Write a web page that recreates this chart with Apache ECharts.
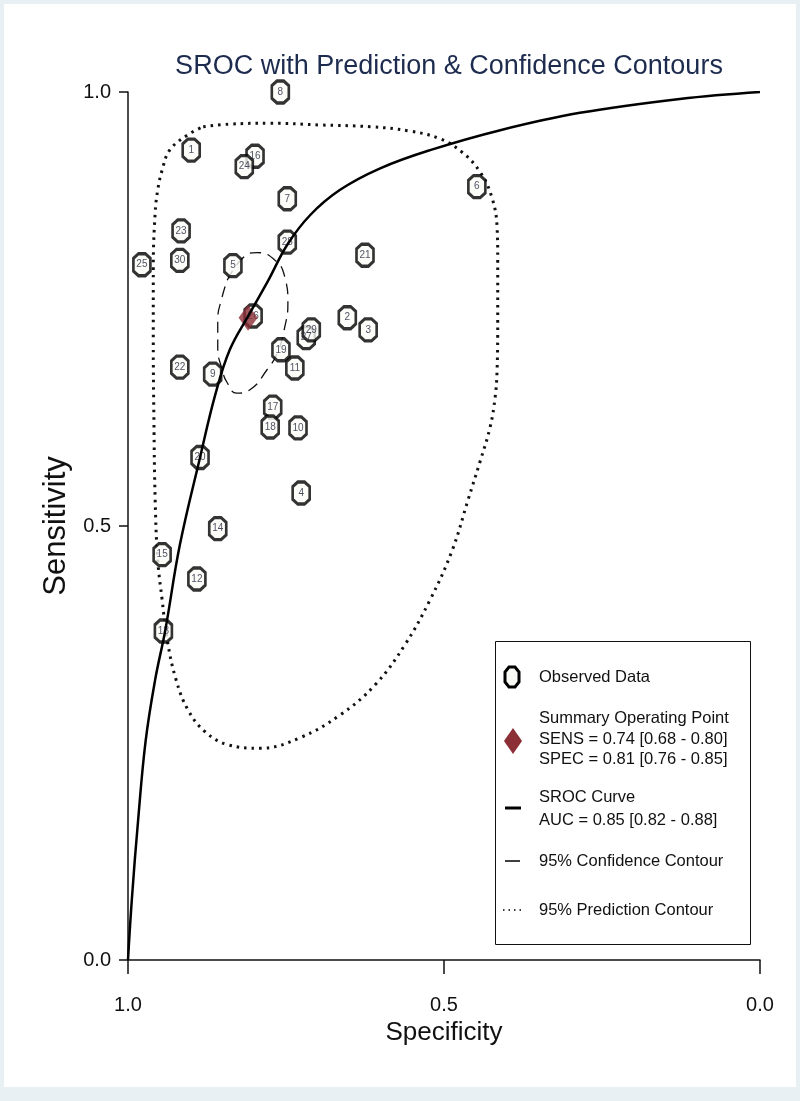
<!DOCTYPE html>
<html>
<head>
<meta charset="utf-8">
<script src="https://cdn.jsdelivr.net/npm/echarts@6/dist/echarts.min.js"></script>
<style>
  html, body { margin: 0; padding: 0; background: #e8f0f3; }
  #chart { width: 800px; height: 1101px; }
</style>
</head>
<body>
<div id="chart"></div>
<script>
// ---------- Data ----------
const studyIds = ['1','2','3','4','5','6','7','8','9','10','11','12','13','14','15','16','17','18','19','20','21','22','23','24','25','26','27','28','29','30'];
const studySpec = [0.900,0.653,0.620,0.726,0.834,0.448,0.748,0.759,0.866,0.731,0.736,0.891,0.944,0.858,0.946,0.799,0.771,0.775,0.758,0.886,0.625,0.918,0.916,0.816,0.978,0.802,0.718,0.748,0.710,0.918];
const studySens = [0.933,0.740,0.726,0.538,0.800,0.891,0.877,1.000,0.675,0.613,0.682,0.439,0.379,0.497,0.467,0.926,0.637,0.614,0.703,0.579,0.812,0.683,0.840,0.914,0.801,0.742,0.717,0.827,0.726,0.806];

const summarySpec = 0.81;
const summarySens = 0.74;

// SROC curve points
const srocSpec = [1.000,0.994,0.984,0.972,0.957,0.941,0.918,0.886,0.862,0.839,0.809,0.778,0.748,0.712,0.665,0.601,0.522,0.411,0.285,0.127,0.000];
const srocSens = [0.000,0.069,0.161,0.253,0.323,0.380,0.478,0.579,0.651,0.703,0.743,0.783,0.824,0.858,0.887,0.912,0.933,0.956,0.976,0.992,1.000];

// 95% confidence contour
const confSpec = [0.843,0.818,0.796,0.767,0.752,0.747,0.752,0.764,0.780,0.807,0.828,0.843,0.851,0.858,0.858,0.851,0.843];
const confSens = [0.783,0.809,0.815,0.806,0.787,0.757,0.729,0.699,0.680,0.657,0.653,0.665,0.680,0.706,0.737,0.764,0.783];

// 95% prediction contour
const predSpec = [0.881,0.839,0.775,0.696,0.617,0.554,0.506,0.472,0.443,0.424,0.416,0.415,0.415,0.416,0.419,0.427,0.443,0.462,0.487,0.522,0.562,0.609,0.665,0.728,0.791,0.842,0.878,0.905,0.924,0.938,0.946,0.953,0.957,0.959,0.960,0.960,0.957,0.953,0.946,0.934,0.907,0.881];
const predSens = [0.960,0.963,0.964,0.962,0.960,0.955,0.946,0.931,0.908,0.878,0.844,0.806,0.737,0.680,0.649,0.614,0.574,0.530,0.472,0.415,0.363,0.317,0.282,0.256,0.244,0.248,0.263,0.288,0.323,0.369,0.415,0.461,0.530,0.622,0.714,0.798,0.861,0.887,0.910,0.933,0.950,0.960];

const axisTicks = [0, 0.5, 1];
const titleText = 'SROC with Prediction & Confidence Contours';
const legendLines = {
  observed: 'Observed Data',
  summary: ['Summary Operating Point', 'SENS = 0.74 [0.68 - 0.80]', 'SPEC = 0.81 [0.76 - 0.85]'],
  sroc: ['SROC Curve', 'AUC = 0.85 [0.82 - 0.88]'],
  conf: '95% Confidence Contour',
  pred: '95% Prediction Contour'
};

// ---------- Build ----------
const zip = (a, b) => a.map((v, i) => [v, b[i]]);
const FONT = '"Liberation Sans", Arial, sans-serif';
const OCT = 'path://M3,0 L7,0 L10,3 L10,11 L7,14 L3,14 L0,11 L0,3 Z';

const chart = echarts.init(document.getElementById('chart'), null, { renderer: 'canvas' });

const legTxt = (x, y, t) => ({
  type: 'text', x: x, y: y, z: 100,
  style: { text: t, font: '16.5px ' + FONT, fill: '#111', verticalAlign: 'middle', align: 'left' }
});

const option = {
  backgroundColor: 'transparent',
  animation: false,
  title: {
    text: titleText,
    left: 444, top: 48, textAlign: 'center',
    textStyle: { fontFamily: FONT, fontSize: 27, fontWeight: 'normal', color: '#1d2b4f' }
  },
  grid: { left: 128, right: 40, top: 92, bottom: 141, containLabel: false },
  xAxis: {
    type: 'value', min: 0, max: 1, interval: 0.5, inverse: true,
    name: 'Specificity', nameLocation: 'middle', nameGap: 60,
    nameTextStyle: { fontFamily: FONT, fontSize: 26, color: '#111' },
    axisLine: { show: true, onZero: false, lineStyle: { color: '#111', width: 1.5 } },
    axisTick: { show: true, length: 14, inside: false, lineStyle: { color: '#111', width: 1.5 } },
    axisLabel: { margin: 35, fontFamily: FONT, fontSize: 20, color: '#111',
      formatter: v => axisTicks.includes(v) ? v.toFixed(1) : '' },
    splitLine: { show: false }
  },
  yAxis: {
    type: 'value', min: 0, max: 1, interval: 0.5,
    name: 'Sensitivity', nameLocation: 'middle', nameGap: 55,
    nameTextStyle: { fontFamily: FONT, fontSize: 31, color: '#111' },
    axisLine: { show: true, onZero: false, lineStyle: { color: '#111', width: 1.5 } },
    axisTick: { show: true, length: 9, inside: false, lineStyle: { color: '#111', width: 1.5 } },
    axisLabel: { margin: 17, fontFamily: FONT, fontSize: 20, color: '#111',
      formatter: v => axisTicks.includes(v) ? v.toFixed(1) : '' },
    splitLine: { show: false }
  },
  series: [
    {
      name: 'Prediction', type: 'line', data: zip(predSpec, predSens),
      showSymbol: false, smooth: 0.4, z: 2, silent: true,
      lineStyle: { color: '#111', width: 3, type: [2.5, 5], cap: 'butt' }
    },
    {
      name: 'Confidence', type: 'line', data: zip(confSpec, confSens),
      showSymbol: false, smooth: 0.5, z: 2, silent: true,
      lineStyle: { color: '#111', width: 1.3, type: [11, 7] }
    },
    {
      name: 'Observed', type: 'scatter', z: 3,
      symbol: OCT, symbolSize: [17, 22],
      itemStyle: { color: '#fbfbf8', borderColor: '#000', borderWidth: 3 },
      label: { show: true, position: 'inside', formatter: '{b}', fontFamily: FONT, fontSize: 10, color: '#1e2238' },
      data: studyIds.map((id, i) => ({ name: id, value: [studySpec[i], studySens[i]] }))
    },
    {
      name: 'Summary', type: 'scatter', z: 4,
      symbol: 'diamond', symbolSize: [19, 26],
      itemStyle: { color: '#8b2e36' },
      data: [[summarySpec, summarySens]]
    },
    {
      name: 'SROC', type: 'line', data: zip(srocSpec, srocSens),
      showSymbol: false, smooth: 0.4, z: 5, silent: true,
      lineStyle: { color: '#000', width: 2.5 }
    }
  ],
  graphic: [
    { type: 'rect', z: -10, shape: { x: 4, y: 4, width: 792, height: 1083 }, style: { fill: '#ffffff' } },
    { type: 'rect', z: 90, shape: { x: 495.5, y: 641.5, width: 255, height: 303 }, style: { fill: '#ffffff', stroke: '#111', lineWidth: 1 } },
    { type: 'polygon', z: 100, shape: { points: [[509,667],[515,667],[519,672],[519,682],[515,687],[509,687],[505,682],[505,672]] },
      style: { fill: '#f8f8f4', stroke: '#000', lineWidth: 3 } },
    legTxt(539, 677, legendLines.observed),
    { type: 'polygon', z: 100, shape: { points: [[513,728],[522,741],[513,754],[504,741]] }, style: { fill: '#8b2e36' } },
    legTxt(539, 718, legendLines.summary[0]),
    legTxt(539, 739, legendLines.summary[1]),
    legTxt(539, 759, legendLines.summary[2]),
    { type: 'line', z: 100, shape: { x1: 505, y1: 808, x2: 521, y2: 808 }, style: { stroke: '#000', lineWidth: 3 } },
    legTxt(539, 797, legendLines.sroc[0]),
    legTxt(539, 820, legendLines.sroc[1]),
    { type: 'line', z: 100, shape: { x1: 505, y1: 861, x2: 520, y2: 861 }, style: { stroke: '#000', lineWidth: 1.5 } },
    legTxt(539, 861, legendLines.conf),
    { type: 'line', z: 100, shape: { x1: 503, y1: 910, x2: 524, y2: 910 }, style: { stroke: '#000', lineWidth: 1.5, lineDash: [1.5, 4] } },
    legTxt(539, 910, legendLines.pred)
  ]
};
chart.setOption(option);
</script>
</body>
</html>
